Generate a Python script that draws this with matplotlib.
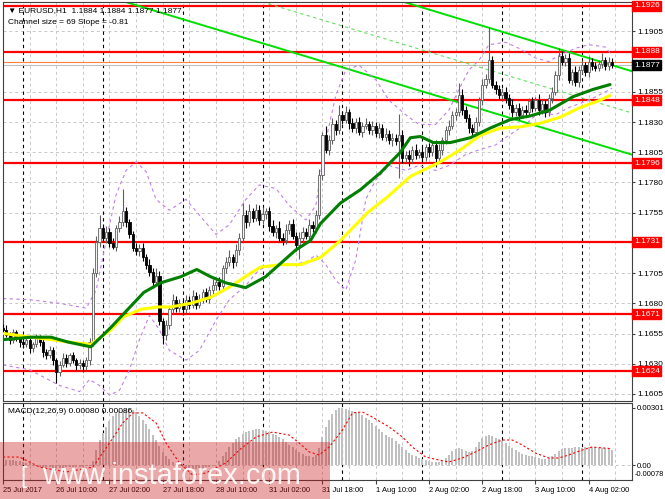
import numpy as np
import matplotlib.pyplot as plt
from matplotlib.patches import Rectangle

plt.rcParams['font.family'] = ['Liberation Sans', 'DejaVu Sans']
plt.rcParams['font.size'] = 6

# EURUSD H1, one bar per hour from 25 Jul 2017 18:00 (bar 0) to 4 Aug 09:00
first_open = 1.1660
closes = [
    1.1658, 1.1654, 1.1650, 1.1656, 1.1651, 1.1648, 1.1646, 1.1650, 1.1643, 1.1646,
    1.1652, 1.1648, 1.1640, 1.1637, 1.1641, 1.1633, 1.1623, 1.1629, 1.1635, 1.1631,
    1.1637, 1.1633, 1.1629, 1.1631, 1.1628, 1.1633, 1.1648, 1.1705, 1.1731, 1.1742,
    1.1734, 1.1739, 1.1730, 1.1727, 1.1742, 1.1747, 1.1756, 1.1747, 1.1737, 1.1726,
    1.1723, 1.1726, 1.1718, 1.1712, 1.1706, 1.1698, 1.1703, 1.1665, 1.1654, 1.1662,
    1.1675, 1.1683, 1.1676, 1.1680, 1.1675, 1.1683, 1.1679, 1.1686, 1.1679, 1.1684,
    1.1689, 1.1684, 1.1691, 1.1695, 1.1698, 1.1694, 1.1709, 1.1714, 1.1718, 1.1714,
    1.1724, 1.1734, 1.1753, 1.1747, 1.1756, 1.1751, 1.1757, 1.1749, 1.1754, 1.1756,
    1.1744, 1.1739, 1.1742, 1.1734, 1.1732, 1.1741, 1.1746, 1.1736, 1.1728, 1.1734,
    1.1739, 1.1736, 1.1745, 1.1742, 1.1753, 1.1786, 1.1819, 1.1807, 1.1815, 1.1828,
    1.1823, 1.1836, 1.1832, 1.1838, 1.1829, 1.1825, 1.1830, 1.1822, 1.1827, 1.1828,
    1.1823, 1.1827, 1.1821, 1.1825, 1.1818, 1.1820, 1.1815, 1.1817, 1.1814, 1.1819,
    1.1800, 1.1803, 1.1799, 1.1807, 1.1803, 1.1805, 1.1801, 1.1809, 1.1805, 1.1811,
    1.1800, 1.1807, 1.1815, 1.1823, 1.1827, 1.1836, 1.1838, 1.1852, 1.1840, 1.1833,
    1.1825, 1.1822, 1.1830, 1.1848, 1.1861, 1.1866, 1.1881, 1.1861, 1.1857, 1.1852,
    1.1855, 1.1850, 1.1844, 1.1838, 1.1842, 1.1836, 1.1840, 1.1838, 1.1847, 1.1842,
    1.1848, 1.1840, 1.1845, 1.1838, 1.1850, 1.1855, 1.1869, 1.1885, 1.1880, 1.1883,
    1.1865, 1.1871, 1.1863, 1.1873, 1.1877, 1.1871, 1.1880, 1.1876, 1.1875, 1.1878,
    1.1881, 1.1876, 1.1880, 1.1877]
# wick lengths in pips above / below the candle body
up_wick = [
    3, 4, 2, 3, 2, 3, 2, 4, 3, 2, 3, 2, 3, 2, 4, 3, 2, 3, 4, 3,
    2, 3, 2, 3, 2, 3, 3, 4, 5, 11, 4, 5, 3, 4, 3, 5, 19, 4, 3, 3,
    4, 3, 4, 3, 5, 3, 6, 4, 3, 4, 3, 5, 3, 4, 3, 4, 3, 5, 3, 4,
    3, 4, 3, 5, 3, 4, 3, 4, 6, 3, 5, 4, 10, 4, 6, 3, 5, 4, 6, 3,
    4, 5, 3, 6, 4, 5, 3, 4, 3, 5, 4, 3, 5, 3, 4, 5, 3, 8, 4, 5,
    4, 8, 3, 5, 3, 4, 3, 4, 3, 5, 3, 4, 3, 4, 3, 5, 3, 4, 3, 18,
    4, 3, 4, 3, 5, 3, 4, 3, 4, 3, 4, 5, 3, 4, 5, 3, 4, 10, 5, 3,
    4, 3, 4, 3, 5, 4, 28, 4, 3, 4, 3, 4, 3, 5, 3, 4, 3, 4, 3, 4,
    3, 5, 3, 4, 3, 4, 3, 6, 4, 3, 4, 3, 5, 3, 4, 3, 5, 3, 4, 3,
    6, 3, 4, 3]
dn_wick = [
    3, 2, 4, 3, 2, 4, 3, 2, 4, 3, 2, 3, 4, 3, 2, 4, 9, 3, 2, 4,
    3, 2, 4, 3, 5, 3, 4, 3, 3, 4, 3, 4, 3, 2, 4, 3, 3, 4, 3, 3,
    3, 4, 3, 4, 3, 5, 3, 3, 8, 4, 3, 4, 3, 3, 5, 3, 4, 3, 4, 3,
    4, 3, 4, 3, 4, 3, 3, 4, 3, 5, 3, 4, 3, 5, 3, 4, 3, 4, 3, 4,
    4, 3, 5, 3, 4, 3, 4, 3, 5, 11, 4, 3, 4, 3, 4, 3, 4, 3, 4, 3,
    4, 3, 4, 3, 5, 3, 4, 3, 4, 3, 3, 4, 3, 4, 3, 4, 3, 5, 3, 30,
    4, 3, 5, 3, 4, 3, 4, 3, 4, 3, 7, 3, 4, 3, 4, 3, 4, 3, 4, 3,
    4, 3, 4, 3, 4, 3, 4, 3, 4, 3, 3, 4, 3, 4, 3, 4, 3, 4, 3, 4,
    3, 4, 3, 4, 3, 4, 3, 4, 3, 4, 3, 4, 3, 4, 3, 3, 4, 3, 3, 3,
    3, 3, 3, 2]

# moving averages, read at sample bars
ma_green_k = [0.3, 8.4, 14.4, 19.5, 26.4, 32.4, 37.5, 42.3, 47.4, 53.4, 58.2, 62.4,
              66.9, 72.9, 78.9, 83.4, 87.9, 92.4, 95.4, 101.4, 107.4, 113.4, 119.4,
              122.4, 125.4, 129.3, 134.4, 140.4, 146.4, 152.4, 158.4, 164.4, 171.3,
              177.3, 182.4]
ma_green = [1.1650, 1.1652, 1.1652, 1.1648, 1.1644, 1.1660, 1.1675, 1.1689, 1.1697,
            1.1702, 1.1708, 1.1702, 1.1697, 1.1693, 1.1702, 1.1713, 1.1724, 1.1732,
            1.1746, 1.1763, 1.1774, 1.1788, 1.1805, 1.1817, 1.1818, 1.1813, 1.1813,
            1.1817, 1.1825, 1.1832, 1.1835, 1.1840, 1.1851, 1.1857, 1.1861]
ma_yellow_k = [0.3, 8.4, 14.4, 19.5, 26.4, 32.4, 36.3, 41.4, 46.5, 50.4, 56.4, 62.4,
               68.4, 74.4, 77.4, 83.4, 89.4, 95.4, 101.4, 109.5, 115.5, 122.4, 131.4,
               137.4, 143.4, 149.4, 155.4, 161.4, 167.4, 173.4, 179.4, 182.4]
ma_yellow = [1.1655, 1.1652, 1.1650, 1.1648, 1.1646, 1.1658, 1.1669, 1.1675, 1.1677,
             1.1677, 1.1680, 1.1685, 1.1694, 1.1705, 1.1710, 1.1712, 1.1712, 1.1718,
             1.1732, 1.1755, 1.1768, 1.1785, 1.1797, 1.1807, 1.1819, 1.1825, 1.1826,
             1.1829, 1.1834, 1.1842, 1.1848, 1.1852]

# envelope bands (purple dashed)
band_up_k = [0, 8, 17, 25, 28, 31, 34, 37, 40, 43, 46, 50, 55, 59, 64, 68, 73, 77, 82,
             86, 91, 94, 97, 100, 103, 107, 112, 116, 121, 125, 130, 134, 137, 140, 143,
             146, 151, 155, 160, 164, 167, 172, 176, 181, 183]
band_up = [1.1684, 1.1683, 1.1680, 1.1676, 1.1691, 1.1732, 1.1770, 1.1790, 1.1797,
           1.1789, 1.1766, 1.1757, 1.1766, 1.1753, 1.1737, 1.1745, 1.1766, 1.1778,
           1.1775, 1.1761, 1.1749, 1.1761, 1.1815, 1.1852, 1.1873, 1.1877, 1.1865,
           1.1848, 1.1836, 1.1828, 1.1828, 1.1840, 1.1857, 1.1873, 1.1881, 1.1894,
           1.1896, 1.1891, 1.1883, 1.1880, 1.1885, 1.1891, 1.1894, 1.1892, 1.1885]
band_dn_k = [0, 8, 17, 23, 26, 29, 32, 35, 38, 41, 44, 47, 50, 55, 59, 64, 68, 73, 77,
             82, 86, 91, 94, 97, 100, 103, 106, 109, 112, 116, 121, 125, 130, 134, 139,
             143, 148, 152, 157, 161, 166, 170, 176, 181, 183]
band_dn = [1.1629, 1.1625, 1.1612, 1.1607, 1.1617, 1.1612, 1.1604, 1.1608, 1.1625,
           1.1650, 1.1670, 1.1658, 1.1641, 1.1633, 1.1641, 1.1666, 1.1683, 1.1695,
           1.1708, 1.1712, 1.1712, 1.1714, 1.1720, 1.1712, 1.1699, 1.1691, 1.1716,
           1.1766, 1.1782, 1.1794, 1.1790, 1.1794, 1.1790, 1.1794, 1.1803, 1.1807,
           1.1811, 1.1819, 1.1828, 1.1838, 1.1836, 1.1842, 1.1848, 1.1855, 1.1858]

# regression channel (start / end points)
chan_k = [34.8, 189.0]
chan_lower = [1.1931, 1.1803]
chan_upper_k = [118.5, 189.0]
chan_upper = [1.1931, 1.1872]
chan_mid_k = [75.9, 189.0]
chan_mid = [1.1931, 1.18375]

levels = [1.1926, 1.1888, 1.1848, 1.1796, 1.1731, 1.1671, 1.1624]
bid = 1.1877
ask = 1.1880
price_ticks = [1.1605, 1.1630, 1.1655, 1.1680, 1.1705, 1.1755, 1.1780, 1.1805,
               1.1830, 1.1855, 1.1905]

# MACD histogram per bar, in 1e-5
macd_hist = [30, 28, 26, 25, 22, 20, 18, 12, 8,
             -3, -5, -8, -10, -12, -12, -14, -15, -15, -14, -12, -12, -10, -10, -8, -8, -5, -3,
             20, 80, 130, 170,
             200, 230, 260, 275, 285, 290, 295, 300,
             290, 280, 260, 240, 215, 190,
             160, 130, 100, 70, 50, 30,
             15, 5, -5, -10, -15, -15,
             -20, -20, -18, -15, -10, -8, -5, 0,
             20, 45, 70, 95, 115, 135, 150,
             165, 175, 180, 185, 190, 190, 185, 180, 175, 165, 160,
             150, 135, 120, 105, 95, 80, 70, 60,
             50, 45, 40, 55, 90,
             150, 200, 240, 270, 290,
             300, 300, 295, 290, 285, 280, 275,
             265, 250, 235, 220, 205, 190, 175,
             160, 150, 140, 125, 110, 95,
             80, 65, 55, 45, 35,
             30, 25, 20, 18, 15, 15, 20, 35, 55, 75,
             85, 90, 85, 75, 70, 75,
             95, 120, 140, 155, 160, 155, 145,
             135, 125, 115, 100, 90, 80, 70, 60, 55,
             50, 45, 40, 35, 30, 30, 35, 45,
             60, 75, 85, 90, 90, 92,
             95, 95, 92, 95, 95, 95, 93, 92, 90, 88, 85, 80]
signal_k = [0, 5, 11, 19, 27, 32, 36, 39, 42, 46, 49, 53, 57, 61, 67, 71, 76, 81, 86,
            89, 92, 95, 98, 102, 105, 108, 111, 116, 120, 123, 127, 131, 134, 138, 142,
            146, 150, 153, 156, 160, 164, 167, 170, 174, 177, 183]
signal = [42, 42, -11, -37, -11, 116, 222, 275, 275, 222, 116, 11, -53, -42, 11, 79,
          148, 174, 158, 116, 69, 53, 95, 185, 275, 280, 253, 201, 148, 95, 42, 26, 16,
          37, 69, 106, 132, 132, 106, 63, 37, 37, 53, 79, 95, 86]

time_k = [0, 16, 32, 48, 64, 80, 96, 112, 128, 144, 160, 176]
time_labels = ['25 Jul 2017', '26 Jul 10:00', '27 Jul 02:00', '27 Jul 18:00',
               '28 Jul 10:00', '31 Jul 02:00', '31 Jul 18:00', '1 Aug 10:00',
               '2 Aug 02:00', '2 Aug 18:00', '3 Aug 10:00', '4 Aug 02:00']
day_k = [6, 30, 54, 78, 102, 126, 150, 174]

c = np.array(closes)
o = np.array([first_open] + closes[:-1])
hi = np.maximum(o, c) + np.array(up_wick) * 0.0001
lo = np.minimum(o, c) - np.array(dn_wick) * 0.0001
k = np.arange(len(c))
bull = c >= o

fig = plt.figure(figsize=(6.65, 4.99), dpi=100)
ax = fig.add_axes([3/665, 1 - 401/499, 629/665, 399/499])
ax2 = fig.add_axes([3/665, 1 - 480/499, 629/665, 77/499], sharex=ax)

for a in (ax, ax2):
    for kk in range(0, 190, 8):
        a.axvline(kk, color='#c8c8c8', lw=0.7, ls=(0, (3, 3)), zorder=0)
    for kk in day_k:
        a.axvline(kk, color='black', lw=0.8, ls=(0, (3, 3)), zorder=0.5)
    for s in a.spines.values():
        s.set_color('#404040')
        s.set_linewidth(0.8)

for p in price_ticks:
    ax.axhline(p, color='#c8c8c8', lw=0.7, ls=(0, (3, 3)), zorder=0)

# support / resistance levels
for lv in levels:
    ax.axhline(lv, color='#ff0000', lw=1.6, zorder=1)
ax.axhline(ask, color='#ff7f3f', lw=0.8, zorder=1)
ax.axhline(bid, color='#c0c0c0', lw=0.8, zorder=1)

# channel
ax.plot(chan_k, chan_lower, color='#00e000', lw=1.4, zorder=2)
ax.plot(chan_upper_k, chan_upper, color='#00e000', lw=1.4, zorder=2)
ax.plot(chan_mid_k, chan_mid, color='#60e060', lw=0.8, ls=(0, (3, 3)), zorder=2)

# bands
ax.plot(band_up_k, band_up, color='#c080e8', lw=0.8, ls=(0, (3, 3)), zorder=2)
ax.plot(band_dn_k, band_dn, color='#c080e8', lw=0.8, ls=(0, (3, 3)), zorder=2)

# candles
edge = np.where(bull, '#606060', 'black')
ax.vlines(k, lo, hi, colors=edge, lw=0.8, zorder=3)
body = np.maximum(np.abs(c - o), 0.00003)
ax.bar(k, body, bottom=np.minimum(o, c), width=0.66,
       color=np.where(bull, '#f4f4f4', 'black'), edgecolor=edge, lw=0.6, zorder=4)

# moving averages
ax.plot(ma_yellow_k, ma_yellow, color='#ffff00', lw=2.2, zorder=5, solid_capstyle='round')
ax.plot(ma_green_k, ma_green, color='#007f00', lw=2.2, zorder=5, solid_capstyle='round')

ax.set_xlim(0.3, 189.0)
ax.set_ylim(1.15992, 1.19293)
ax.yaxis.tick_right()
ax.set_yticks(price_ticks)
ax.set_yticklabels([f'{p:.4f}' for p in price_ticks])
ax.tick_params(axis='y', length=2, pad=1.5, labelsize=6, color='#404040')
ax.tick_params(axis='x', bottom=False, labelbottom=False)

ytr = ax.get_yaxis_transform()
for lv in levels:
    ax.text(1.003, lv, f'{lv:.4f}', transform=ytr, color='white', va='center', ha='left',
            fontsize=6, bbox=dict(boxstyle='square,pad=0.2', fc='#ff0000', ec='#ff0000'),
            zorder=10, clip_on=False)
ax.text(1.003, bid, f'{bid:.4f}', transform=ytr, color='white', va='center', ha='left',
        fontsize=6, bbox=dict(boxstyle='square,pad=0.2', fc='black', ec='black'),
        zorder=10, clip_on=False)

ax.text(0.008, 0.988, '\u25bc EURUSD,H1  1.1884 1.1884 1.1877 1.1877', transform=ax.transAxes,
        va='top', ha='left', fontsize=6, zorder=11)
ax.text(0.008, 0.958, 'Channel size = 69 Slope = -0.81', transform=ax.transAxes,
        va='top', ha='left', fontsize=6, zorder=11)

# MACD
hist = np.array(macd_hist) * 1e-5
ax2.axhline(0, color='#c8c8c8', lw=0.7, ls=(0, (3, 3)), zorder=0)
ax2.bar(k, hist, width=0.6, color='#c0c0c0', zorder=2)
ax2.plot(signal_k, np.array(signal) * 1e-5, color='#ff0000', lw=0.8, ls=(0, (2, 2)), zorder=3)
ax2.set_ylim(-0.000792, 0.003274)
ax2.yaxis.tick_right()
ax2.set_yticks([0.00301, 0.0])
ax2.set_yticklabels(['0.00301', '0.00'])
ax2.tick_params(axis='y', length=2, pad=1.5, labelsize=5.6, color='#404040')
ax2.text(1.004, 0.07, '-0.00078', transform=ax2.transAxes, va='center', ha='left',
         fontsize=5.3)
ax2.text(0.008, 0.93, 'MACD(12,26,9) 0.00080 0.00086', transform=ax2.transAxes,
         va='top', ha='left', fontsize=6, zorder=11)
ax2.set_xticks(time_k)
ax2.set_xticklabels(time_labels, ha='left')
ax2.tick_params(axis='x', length=3, pad=2, labelsize=5.4, color='#404040')

# watermark
fig.patches.append(Rectangle((0, 0), 330/665, 57/499, transform=fig.transFigure,
                             fc=(0.8, 0.1, 0.1), alpha=0.38, ec='none', zorder=20))
fig.text(42/665, 15/499, 'www.instaforex.com', color='white', alpha=0.9, fontsize=21,
         family=['Liberation Sans', 'DejaVu Sans'], ha='left', va='baseline', zorder=21)
fig.text(20/665, 16/499, '[', color='white', alpha=0.9, fontsize=17, ha='left',
         va='baseline', zorder=21)

fig.savefig('out.png', dpi=100, facecolor='white')
